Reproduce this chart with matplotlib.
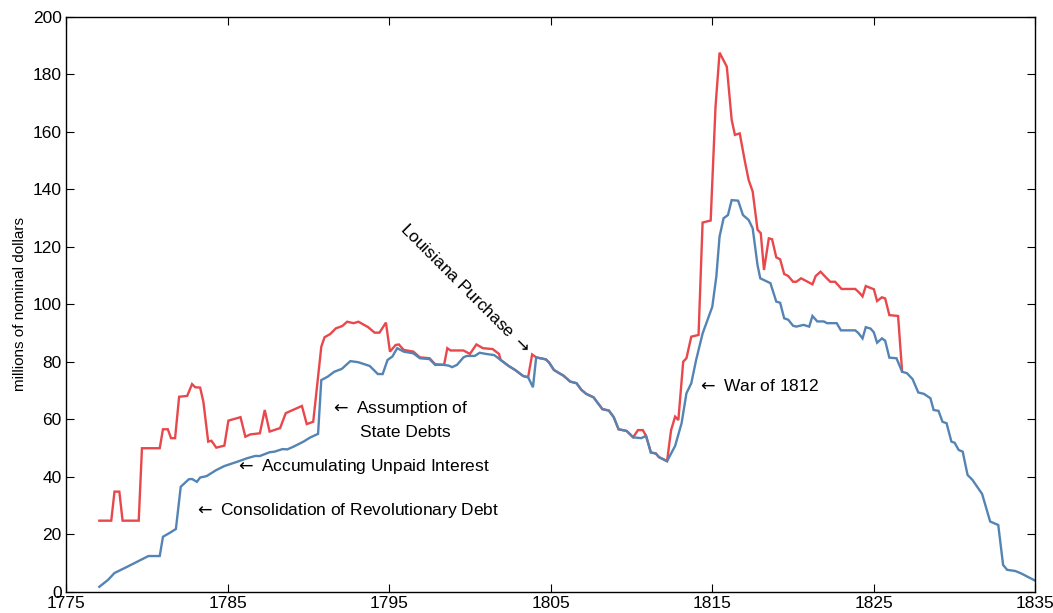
import numpy as np
import matplotlib
matplotlib.use('Agg')
import matplotlib.pyplot as plt

plt.rcParams['font.family'] = ['Liberation Sans', 'DejaVu Sans']
plt.rcParams['mathtext.fontset'] = 'dejavusans'

# Debt excluding assumed state debts (blue)
blue_year = [1777.06, 1777.6, 1778.0, 1778.8, 1779.6, 1780.1, 1780.8, 1781.0, 1781.4, 1781.8,
             1782.1, 1782.6, 1782.8, 1783.1, 1783.3, 1783.7, 1784.3, 1784.8, 1785.6, 1786.2,
             1786.7, 1787.0, 1787.6, 1787.9, 1788.4, 1788.7, 1789.1, 1789.7, 1790.1, 1790.6,
             1790.8, 1791.2, 1791.6, 1792.07, 1792.6, 1793.1, 1793.8, 1794.3, 1794.6, 1794.9,
             1795.2, 1795.5, 1795.9, 1796.5, 1796.9, 1797.5, 1797.85, 1798.4, 1798.7, 1798.9,
             1799.2, 1799.6, 1799.8, 1800.3, 1800.6, 1801.0, 1801.5, 1801.9, 1802.4, 1802.8,
             1803.3, 1803.6, 1803.9, 1804.1, 1804.7, 1804.9, 1805.2, 1805.8, 1806.2, 1806.6,
             1806.9, 1807.2, 1807.65, 1808.2, 1808.6, 1808.9, 1809.2, 1809.7, 1810.1, 1810.6,
             1810.9, 1811.2, 1811.5, 1811.7, 1812.2, 1812.7, 1813.1, 1813.4, 1813.7, 1814.0,
             1814.4, 1815.0, 1815.25, 1815.45, 1815.7, 1815.97, 1816.2, 1816.6, 1816.9, 1817.25,
             1817.5, 1817.8, 1817.97, 1818.6, 1818.96, 1819.2, 1819.45, 1819.7, 1820.0, 1820.2,
             1820.65, 1821.0, 1821.2, 1821.5, 1821.9, 1822.1, 1822.7, 1822.96, 1823.85, 1824.05,
             1824.3, 1824.5, 1824.8, 1825.0, 1825.2, 1825.5, 1825.7, 1825.96, 1826.4, 1826.75,
             1827.05, 1827.4, 1827.75, 1828.1, 1828.5, 1828.7, 1829.0, 1829.25, 1829.5, 1829.8,
             1830.0, 1830.25, 1830.5, 1830.8, 1831.1, 1831.7, 1832.2, 1832.7, 1833.0, 1833.25,
             1833.75, 1834.1, 1835.0]
blue_debt = [1.8, 4.2, 6.6, 8.8, 11.1, 12.5, 12.5, 19.2, 20.5, 21.9,
             36.6, 39.2, 39.3, 38.3, 39.8, 40.3, 42.4, 43.8, 45.3, 46.5,
             47.3, 47.3, 48.6, 48.8, 49.7, 49.6, 50.6, 52.3, 53.7, 55.0,
             73.7, 74.9, 76.6, 77.6, 80.3, 79.9, 78.6, 75.8, 75.8, 80.7,
             81.9, 84.8, 83.6, 83.0, 81.3, 81.0, 79.0, 79.0, 78.7, 78.2,
             79.0, 81.6, 82.1, 82.1, 83.2, 82.8, 82.4, 80.7, 78.6, 77.2,
             75.1, 74.7, 71.2, 81.6, 80.9, 79.8, 77.2, 75.2, 73.2, 72.6,
             70.3, 68.9, 67.7, 63.6, 63.1, 60.8, 56.6, 56.0, 53.8, 53.5,
             54.3, 48.5, 48.2, 46.9, 45.5, 50.8, 58.7, 69.1, 72.6, 80.7,
             89.9, 99.2, 109.7, 123.6, 130.0, 131.1, 136.3, 136.1, 131.1, 129.4,
             126.5, 113.7, 109.1, 107.4, 101.0, 100.6, 95.2, 94.7, 92.6, 92.3,
             92.9, 92.3, 96.0, 94.1, 94.1, 93.5, 93.5, 91.0, 91.0, 90.0,
             88.2, 92.1, 91.6, 90.3, 86.7, 88.2, 87.4, 81.5, 81.3, 76.6,
             76.1, 74.0, 69.4, 68.9, 67.4, 63.3, 63.0, 59.2, 58.7, 52.3,
             51.9, 49.4, 48.8, 40.7, 39.0, 34.1, 24.5, 23.3, 9.4, 7.7,
             7.3, 6.5, 3.9]

# Debt including assumed state debts (red)
red_year = [1777.06, 1777.8, 1778.0, 1778.3, 1778.5, 1779.5, 1779.7, 1780.8, 1781.0, 1781.3,
            1781.5, 1781.75, 1782.0, 1782.5, 1782.8, 1783.0, 1783.3, 1783.5, 1783.8, 1784.0,
            1784.3, 1784.8, 1785.05, 1785.8, 1786.1, 1786.4, 1787.0, 1787.3, 1787.6, 1788.25,
            1788.6, 1789.6, 1789.9, 1790.3, 1790.8, 1791.0, 1791.35, 1791.7, 1792.1, 1792.4,
            1792.8, 1793.1, 1793.7, 1794.1, 1794.4, 1794.8, 1795.05, 1795.4, 1795.6, 1795.9,
            1796.5, 1796.9, 1797.5, 1797.85, 1798.4, 1798.6, 1798.8, 1799.6, 1800.0, 1800.4,
            1800.8, 1801.4, 1801.8, 1801.9, 1802.4, 1802.8, 1803.3, 1803.6, 1803.85, 1804.1,
            1804.7, 1804.9, 1805.2, 1805.8, 1806.2, 1806.6, 1806.9, 1807.2, 1807.65, 1808.2,
            1808.6, 1808.9, 1809.2, 1809.7, 1810.1, 1810.4, 1810.7, 1810.9, 1811.2, 1811.5,
            1811.7, 1812.2, 1812.45, 1812.7, 1812.9, 1813.2, 1813.4, 1813.7, 1814.15, 1814.4,
            1814.9, 1815.2, 1815.45, 1815.9, 1816.2, 1816.4, 1816.7, 1817.0, 1817.25, 1817.5,
            1817.8, 1818.0, 1818.2, 1818.5, 1818.7, 1818.96, 1819.2, 1819.45, 1819.7, 1820.0,
            1820.2, 1820.5, 1820.8, 1821.2, 1821.4, 1821.7, 1821.95, 1822.3, 1822.6, 1823.0,
            1823.85, 1824.1, 1824.3, 1824.5, 1825.0, 1825.2, 1825.5, 1825.7, 1825.96, 1826.5,
            1826.75]
red_debt = [24.8, 24.8, 34.9, 34.9, 24.8, 24.8, 50.0, 50.0, 56.6, 56.6,
            53.5, 53.5, 67.9, 68.2, 72.3, 71.2, 71.1, 66.2, 52.3, 52.6,
            50.2, 50.9, 59.6, 60.8, 54.0, 54.8, 55.2, 63.3, 55.8, 57.0,
            62.2, 64.7, 58.4, 59.2, 85.3, 88.6, 89.7, 91.7, 92.5, 94.0,
            93.5, 94.0, 92.1, 90.2, 90.2, 93.7, 83.6, 85.9, 86.1, 84.2,
            83.6, 81.6, 81.3, 79.2, 79.0, 84.8, 84.0, 84.0, 82.8, 86.1,
            84.8, 84.5, 82.8, 80.7, 78.6, 77.2, 75.1, 74.7, 82.6, 81.6,
            80.9, 79.8, 77.2, 75.2, 73.2, 72.6, 70.3, 68.9, 67.7, 63.6,
            63.1, 60.8, 56.6, 56.0, 53.8, 56.3, 56.3, 54.3, 48.5, 48.2,
            46.9, 45.5, 56.3, 61.0, 59.8, 80.1, 81.3, 88.8, 89.4, 128.5,
            129.2, 168.8, 187.6, 182.7, 164.2, 159.0, 159.5, 150.3, 143.3, 139.3,
            126.0, 124.8, 112.0, 123.0, 122.7, 116.4, 115.7, 110.6, 109.9, 107.9,
            107.9, 109.1, 108.2, 107.0, 109.9, 111.4, 109.9, 107.9, 107.9, 105.4,
            105.4, 104.1, 102.8, 106.4, 105.3, 101.2, 102.5, 102.1, 96.3, 96.0,
            76.6]

fig = plt.figure(figsize=(10.53, 6.13), dpi=100)
ax = fig.add_axes([0.0627, 0.0343, 0.9206, 0.938])

ax.plot(red_year, red_debt, color='#e8484b', lw=1.7, solid_joinstyle='miter')
ax.plot(blue_year, blue_debt, color='#5484b4', lw=1.7, solid_joinstyle='miter')

ax.set_xlim(1775, 1835)
ax.set_ylim(0, 200)
ax.set_xticks(np.arange(1775, 1836, 10))
ax.set_yticks(np.arange(0, 201, 20))
ax.tick_params(direction='in', top=True, right=True, length=6, width=0.8, labelsize=12.5, pad=3)
ax.set_ylabel('millions of nominal dollars', fontsize=11, labelpad=4)
for s in ax.spines.values():
    s.set_linewidth(1.0)

fs = 12.5
la = r'$\leftarrow$'
ax.text(1782.9, 28.5, la + ' Consolidation of Revolutionary Debt', fontsize=fs, va='center', ha='left')
ax.text(1785.45, 43.5, la + ' Accumulating Unpaid Interest', fontsize=fs, va='center', ha='left')
ax.text(1791.35, 63.8, la + ' Assumption of', fontsize=fs, va='center', ha='left')
ax.text(1793.2, 55.5, 'State Debts', fontsize=fs, va='center', ha='left')
ax.text(1814.05, 71.7, la + ' War of 1812', fontsize=fs, va='center', ha='left')
ax.text(1803.55, 83.8, r'Louisiana Purchase $\rightarrow$', fontsize=fs, rotation=-45,
        rotation_mode='anchor', ha='right', va='center')

fig.savefig('out.png', dpi=100)
